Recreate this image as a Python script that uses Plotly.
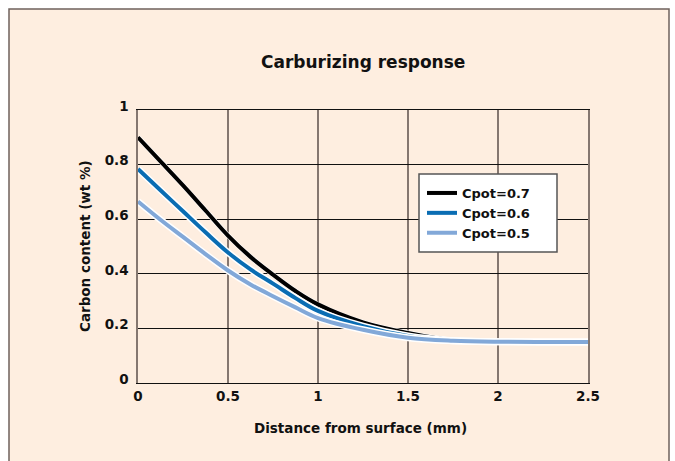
import plotly.graph_objects as go

# ---- data ----
distance_mm = [0, 0.125, 0.25, 0.375, 0.5, 0.625, 0.75, 0.875, 1.0, 1.25, 1.5, 1.75, 2.0, 2.25, 2.5]
cpot_07 = [0.900, 0.812, 0.724, 0.632, 0.540, 0.462, 0.397, 0.337, 0.288, 0.222, 0.183, 0.156, 0.151, 0.150, 0.150]
cpot_06 = [0.784, 0.706, 0.629, 0.552, 0.478, 0.416, 0.364, 0.311, 0.264, 0.208, 0.172, 0.155, 0.151, 0.150, 0.150]
cpot_05 = [0.665, 0.598, 0.535, 0.472, 0.412, 0.361, 0.318, 0.277, 0.238, 0.195, 0.166, 0.155, 0.151, 0.150, 0.150]
series_names = ["Cpot=0.7", "Cpot=0.6", "Cpot=0.5"]
series_values = [cpot_07, cpot_06, cpot_05]
series_colors = ["#000000", "#0A6DB3", "#82A8D8"]

x_ticks = [0, 0.5, 1, 1.5, 2, 2.5]
y_ticks = [0, 0.2, 0.4, 0.6, 0.8, 1]

BG = "#FEEEE0"
GRID_V = "#857770"
FONT = "DejaVu Sans"

fig = go.Figure()
for name, vals, col in zip(series_names, series_values, series_colors):
    fig.add_trace(go.Scatter(x=distance_mm, y=vals, mode="lines", showlegend=False,
                             hoverinfo="skip",
                             line=dict(color="white", width=7 if col != "#000000" else 5,
                                       shape="spline", smoothing=1.0)))
    fig.add_trace(go.Scatter(x=distance_mm, y=vals, mode="lines", name=name,
                             line=dict(color=col, width=4, shape="spline", smoothing=1.0)))

W, H = 675, 461
L, R, T, B = 138, 588, 110, 383
pw, ph = R - L, B - T

def px(xp):
    return (xp - L) / pw

def py(yp):
    return (B - yp) / ph

fig.update_layout(
    width=W, height=H,
    margin=dict(l=L, r=W - R, t=T, b=H - B),
    paper_bgcolor="white",
    plot_bgcolor=BG,
    font=dict(family=FONT, color="#1a1a1a"),
    showlegend=True,
    legend=dict(x=px(422), y=py(178), xanchor="left", yanchor="top",
                bgcolor="rgba(0,0,0,0)", borderwidth=0,
                font=dict(family=FONT, size=13, color="#111", weight="bold"),
                itemwidth=30, tracegroupgap=0),
    shapes=[
        dict(type="rect", xref="paper", yref="paper", layer="below",
             x0=px(9), x1=px(669), y0=py(9), y1=py(470),
             fillcolor=BG, line=dict(color="#6f625c", width=1.5)),
        dict(type="rect", xref="paper", yref="paper", layer="above",
             x0=px(419), x1=px(557), y0=py(174), y1=py(252),
             fillcolor="white", line=dict(color="#555", width=1.5)),
    ],
    annotations=[
        dict(text="Carburizing response", xref="paper", yref="paper",
             x=px(363), y=py(62), showarrow=False, xanchor="center", yanchor="middle",
             font=dict(family=FONT, size=17, color="#111", weight="bold")),
        dict(text="Distance from surface (mm)", xref="paper", yref="paper",
             x=px(360), y=py(428), showarrow=False, xanchor="center", yanchor="middle",
             font=dict(family=FONT, size=13.5, color="#111", weight="bold")),
        dict(text="Carbon content (wt %)", xref="paper", yref="paper",
             x=px(85), y=py(246), showarrow=False, xanchor="center", yanchor="middle",
             textangle=-90,
             font=dict(family=FONT, size=13.5, color="#111", weight="bold")),
    ],
)

fig.update_xaxes(range=[0, 2.5], tickvals=x_ticks, ticktext=[f"{v:g}" for v in x_ticks],
                 showgrid=True, gridcolor=GRID_V, gridwidth=1.5,
                 showline=True, linecolor="#111", linewidth=1.2, mirror=True,
                 zeroline=False, ticks="", ticklabelstandoff=1,
                 tickfont=dict(family=FONT, size=13.5, color="#111", weight="bold"))
fig.update_yaxes(range=[0, 1], tickvals=y_ticks, ticktext=[f"{v:g}" for v in y_ticks],
                 showgrid=True, gridcolor="#111", gridwidth=1,
                 showline=True, linecolor=GRID_V, linewidth=1.5, mirror=True,
                 zeroline=False, ticks="", ticklabelstandoff=5, ticklabelshift=-4,
                 tickfont=dict(family=FONT, size=13.5, color="#111", weight="bold"))

fig.write_html("out.html", config={"displayModeBar": False},
               post_script="document.body.style.margin='0';")
